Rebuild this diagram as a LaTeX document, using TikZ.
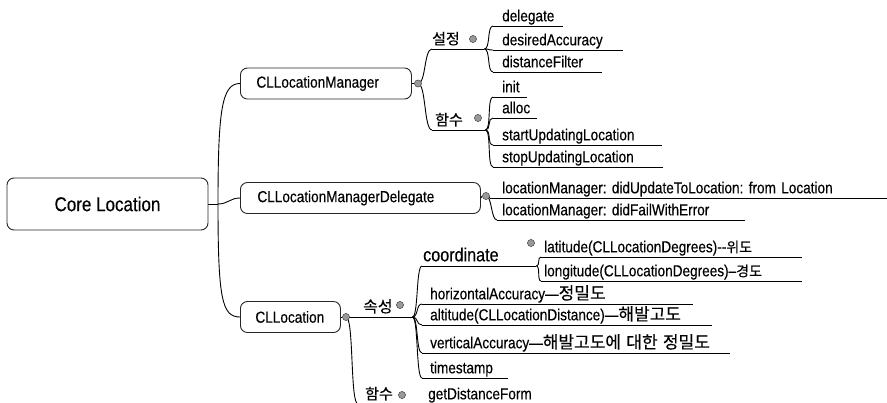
\documentclass[tikz,border=0pt]{standalone}
\usepackage{fontspec}
\setmainfont{Liberation Sans}[FakeStretch=0.85,FakeBold=0.3]
\newfontfamily\kr{Noto Sans CJK KR}[FakeBold=0.4]
\newcommand\fsz[1]{\fontsize{#1pt}{#1pt}\selectfont}
\begin{document}
\begin{tikzpicture}[x=1pt,y=-1pt,
  conn/.style={line width=0.9pt},
  brk/.style={to path={.. controls +(#1,0) and +(-#1,0) .. (\tikztotarget)}},
  brk/.default=6,
  box/.style={draw=black!85, line width=0.9pt, rounded corners=7pt, minimum height=31pt,
    align=left, anchor=west, font=\fsz{16}, inner ysep=0pt},
  leaf/.style={anchor=south west, inner ysep=0.5pt, inner xsep=9pt, text height=12pt,
    text depth=4pt, align=left, font=\fsz{16}},
  lbl/.style={leaf, font=\kr\fsz{15}},
  knot/.style={circle, fill=black!40, draw=black!70, line width=0.4pt, inner sep=0pt,
    minimum size=7pt}]
\useasboundingbox (0,0) rectangle (887,402);
\clip (0,0) rectangle (887,402);

% main boxes
\node[draw=black!85, line width=0.9pt, rounded corners=7pt, minimum width=201pt,
  minimum height=52pt, font=\fsz{20}] (root) at (107.5,204) {Core Location};
\node[box, inner xsep=16pt, text width=139pt] (mgr) at (240,83.5) {CLLocationManager};
\node[box, inner xsep=17pt, text width=206pt] (dlg) at (240,198) {CLLocationManagerDelegate};
\node[box, inner xsep=15pt, text width=70pt] (loc) at (240,317) {CLLocation};
\coordinate (rj) at (218,204);

% CLLocationManager branch
\node[lbl, inner xsep=0pt, text width=52pt] (set) at (432,49) {설정};
\node[lbl, inner xsep=3pt, text width=47pt] (fn1) at (432,130) {함수};
\node[leaf, text width=52pt] (l1) at (493,26) {delegate};
\node[leaf, text width=112pt] (l2) at (493,50) {desiredAccuracy};
\node[leaf, text width=91pt] (l3) at (493,72) {distanceFilter};
\node[leaf, text width=16pt] (l4) at (493,97) {init};
\node[leaf, text width=26pt] (l5) at (493,118) {alloc};
\node[leaf, text width=151pt] (l6) at (493,145) {startUpdatingLocation};
\node[leaf, text width=152pt] (l7) at (493,167) {stopUpdatingLocation};

% Delegate branch
\node[leaf, inner xsep=12pt, text width=376pt] (u1) at (490,198) {locationManager:~didUpdateToLocation:~from~Location};
\node[leaf, inner xsep=5pt, text width=238pt] (u2) at (497,220) {locationManager:~didFailWithError};

% CLLocation branch
\node[lbl, font=\kr\fsz{16}, inner xsep=10pt, text width=39pt] (attr) at (353,317) {속성};
\node[lbl, inner xsep=7pt, text width=48pt] (fn2) at (358,404) {함수};
\node[leaf, inner xsep=8pt, text width=124pt] (gdf) at (420,404) {getDistanceForm};
\node[leaf, font=\fsz{19}, inner xsep=1pt, text width=112pt] (coord) at (422,266) {coordinate};
\node[leaf, inner xsep=3pt, text width=255pt] (lat) at (541,257) {latitude(CLLocationDegrees)-{}-{\kr\fsz{14}위도}};
\node[leaf, inner xsep=3pt, text width=255pt] (lon) at (541,281) {longitude(CLLocationDegrees)–{\kr\fsz{14}경도}};
\node[leaf, inner xsep=8pt, text width=255pt] (hac) at (422,304) {horizontalAccuracy—{\kr\fsz{17}정밀도}};
\node[leaf, inner xsep=8pt, text width=274pt] (alt) at (422,325) {altitude(CLLocationDistance)—{\kr\fsz{17}해발고도}};
\node[leaf, inner xsep=8pt, text width=292pt] (vac) at (422,353) {verticalAccuracy—{\kr\fsz{17}해발고도에~대한~정밀도}};
\node[leaf, inner xsep=8pt, text width=70pt] (ts) at (422,378) {timestamp};

% underlines
\foreach \n in {set,fn1,l1,l2,l3,l4,l5,l6,l7,u1,u2,attr,fn2,gdf,coord,lat,lon,hac,alt,vac,ts}
  \draw[conn] (\n.south west) -- (\n.south east);

% knots
\node[knot] (mgrd) at (418,83.5) {};
\node[knot] (setd) at (473,39) {};
\node[knot] (fn1d) at (478,118) {};
\node[knot] (dlgd) at (486,196) {};
\node[knot] (locd) at (346,317) {};
\node[knot] (attrd) at (400,305) {};
\node[knot] (fn2d) at (402,395) {};
\node[knot] (coordd) at (531,243) {};

% connectors
\begin{scope}[conn]
\draw (root.east) -- (rj);
\draw (rj) .. controls +(0,-95) and +(-18,0) .. (mgr.west);
\draw (rj) .. controls +(10,0) and +(-10,0) .. (dlg.west);
\draw (rj) .. controls +(0,95) and +(-18,0) .. (loc.west);

\draw (mgr.east) -- (mgrd.west);
\draw (mgrd.center) to[brk=8] (set.south west);
\draw (mgrd.center) to[brk=8] (fn1.south west);
\foreach \c in {l1,l2,l3} \draw (set.south east) to[brk] (\c.south west);
\foreach \c in {l4,l5,l6,l7} \draw (fn1.south east) to[brk] (\c.south west);

\draw (dlg.east) -- (dlgd.west);
\draw (dlgd.center) to[brk=3] (u1.south west);
\draw (dlgd.center) to[brk=6] (u2.south west);

\draw (loc.east) -- (locd.west);
\draw (locd.center) to[brk=4] (attr.south west);
\draw (locd.center) to[brk=8] (fn2.south west);
\draw (fn2.south east) -- (gdf.south west);
\foreach \c in {coord,hac,alt,vac,ts} \draw (attr.south east) to[brk=6] (\c.south west);
\foreach \c in {lat,lon} \draw (coord.south east) to[brk=4] (\c.south west);
\end{scope}

% redraw knots on top
\foreach \k in {mgrd,setd,fn1d,dlgd,locd,attrd,fn2d,coordd}
  \node[knot] at (\k) {};
\end{tikzpicture}
\end{document}
